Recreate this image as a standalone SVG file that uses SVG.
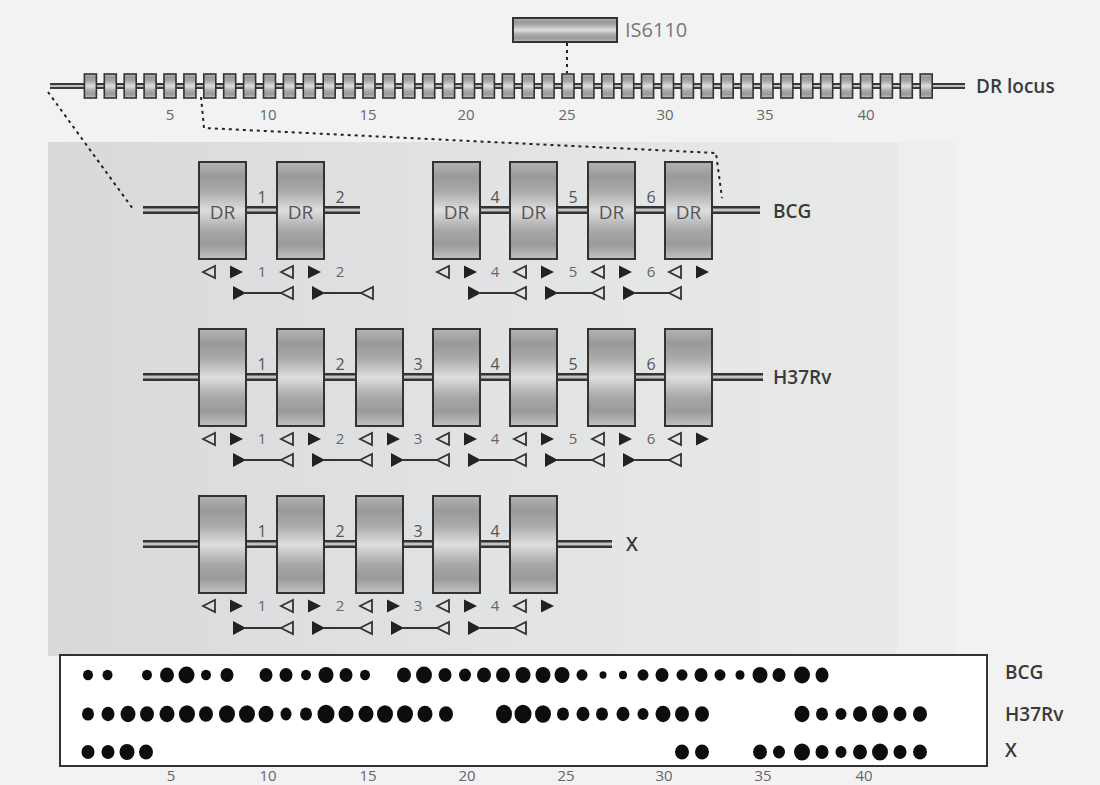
<svg xmlns="http://www.w3.org/2000/svg" xmlns:xlink="http://www.w3.org/1999/xlink" width="1100" height="785" viewBox="0 0 1100 785">
<style>
.t{font-family:"Open Sans","Liberation Sans",sans-serif;}
.num{font-size:15px;fill:#666;text-anchor:middle;}
.sp{font-size:16px;fill:#555;text-anchor:middle;}
.lab{font-size:19px;font-weight:600;fill:#3a3a3a;}
.dr{font-size:19px;fill:#555;text-anchor:middle;}
.box{fill:url(#metal);stroke:#333;stroke-width:2;}
.sbox{fill:url(#metal);stroke:#333;stroke-width:1.6;}
.lo{stroke:#333;stroke-width:8;fill:none;}
.li{stroke:#c4c4c4;stroke-width:3;fill:none;}
.slo{stroke:#3a3a3a;stroke-width:6;fill:none;}
.sli{stroke:#bdbdbd;stroke-width:2;fill:none;}
.dash{stroke:#222;stroke-width:2;fill:none;stroke-dasharray:3 4;}
.tri-o{fill:none;stroke:#333;stroke-width:1.8;stroke-linejoin:miter;}
.tri-f{fill:#222;}
.pl{stroke:#333;stroke-width:2;}
.dot{fill:#111;filter:url(#soft);}
</style>
<defs>
<linearGradient id="metal" x1="0" y1="0" x2="0" y2="1">
<stop offset="0" stop-color="#b4b4b4"/>
<stop offset="0.15" stop-color="#999"/>
<stop offset="0.3" stop-color="#a9a9a9"/>
<stop offset="0.5" stop-color="#dedede"/>
<stop offset="0.7" stop-color="#a8a8a8"/>
<stop offset="0.85" stop-color="#9a9a9a"/>
<stop offset="1" stop-color="#c2c2c2"/>
</linearGradient>
<linearGradient id="panel" x1="0" y1="0" x2="1" y2="0">
<stop offset="0" stop-color="#d8d9da"/>
<stop offset="0.5" stop-color="#e1e2e3"/>
<stop offset="0.75" stop-color="#e5e6e6"/>
<stop offset="1" stop-color="#e8e9e9"/>
</linearGradient>
<filter id="soft" x="-30%" y="-30%" width="160%" height="160%"><feGaussianBlur stdDeviation="0.7"/></filter>
<rect id="sb" x="0" y="74" width="12" height="24" class="sbox"/>
<rect id="bb" x="0" y="0" width="47" height="97" class="box"/>
<path id="to" d="M0,0 L12,-6 L12,6 Z" class="tri-o"/>
<path id="tf" d="M0,-6.5 L13,0 L0,6.5 Z" class="tri-f"/>
<path id="tp" d="M0,-7 L13,0 L0,7 Z" class="tri-f"/>
</defs>

<rect x="0" y="0" width="1100" height="785" fill="#f2f2f2"/>
<rect x="897" y="142" width="58" height="514" fill="#eeeeee"/>
<rect x="48" y="142" width="849" height="514" fill="url(#panel)"/>

<!-- IS6110 -->
<g id="is6110">
<rect x="513" y="18" width="104" height="24" class="box"/>
<text x="625" y="37" class="t" font-size="20" fill="#777">IS6110</text>
</g>

<!-- DR locus -->
<g id="dr-locus">
<line x1="50" y1="86" x2="965" y2="86" class="slo"/>
<line x1="50" y1="86" x2="965" y2="86" class="sli"/>
<use xlink:href="#sb" x="84.4"/><use xlink:href="#sb" x="104.3"/><use xlink:href="#sb" x="124.2"/><use xlink:href="#sb" x="144.1"/><use xlink:href="#sb" x="164"/>
<use xlink:href="#sb" x="183.9"/><use xlink:href="#sb" x="203.8"/><use xlink:href="#sb" x="223.7"/><use xlink:href="#sb" x="243.6"/><use xlink:href="#sb" x="263.5"/>
<use xlink:href="#sb" x="283.4"/><use xlink:href="#sb" x="303.3"/><use xlink:href="#sb" x="323.2"/><use xlink:href="#sb" x="343.1"/><use xlink:href="#sb" x="363"/>
<use xlink:href="#sb" x="382.9"/><use xlink:href="#sb" x="402.8"/><use xlink:href="#sb" x="422.7"/><use xlink:href="#sb" x="442.6"/><use xlink:href="#sb" x="462.5"/>
<use xlink:href="#sb" x="482.4"/><use xlink:href="#sb" x="502.3"/><use xlink:href="#sb" x="522.2"/><use xlink:href="#sb" x="542.1"/><use xlink:href="#sb" x="562"/>
<use xlink:href="#sb" x="581.9"/><use xlink:href="#sb" x="601.8"/><use xlink:href="#sb" x="621.7"/><use xlink:href="#sb" x="641.6"/><use xlink:href="#sb" x="661.5"/>
<use xlink:href="#sb" x="681.4"/><use xlink:href="#sb" x="701.3"/><use xlink:href="#sb" x="721.2"/><use xlink:href="#sb" x="741.1"/><use xlink:href="#sb" x="761"/>
<use xlink:href="#sb" x="780.9"/><use xlink:href="#sb" x="800.8"/><use xlink:href="#sb" x="820.7"/><use xlink:href="#sb" x="840.6"/><use xlink:href="#sb" x="860.5"/>
<use xlink:href="#sb" x="880.4"/><use xlink:href="#sb" x="900.3"/><use xlink:href="#sb" x="920.2"/>
<text x="976" y="93" class="t lab" font-size="19">DR locus</text>
<g class="t num">
<text x="170" y="120">5</text><text x="268" y="120">10</text><text x="368" y="120">15</text><text x="466" y="120">20</text>
<text x="567" y="120">25</text><text x="665" y="120">30</text><text x="765" y="120">35</text><text x="866" y="120">40</text>
</g>
</g>

<!-- connectors -->
<g id="connectors">
<line x1="567" y1="43" x2="567" y2="73" class="dash"/>
<line x1="48" y1="92" x2="133" y2="209" class="dash"/>
<polyline points="201,97 204,128 716,153 722,198" class="dash"/>
</g>

<!-- BCG -->
<g id="row-bcg">
<line x1="143" y1="210" x2="360" y2="210" class="lo"/><line x1="143" y1="210" x2="360" y2="210" class="li"/>
<line x1="470" y1="210" x2="760" y2="210" class="lo"/><line x1="470" y1="210" x2="760" y2="210" class="li"/>
<use xlink:href="#bb" x="199" y="162"/><use xlink:href="#bb" x="277" y="162"/>
<use xlink:href="#bb" x="433" y="162"/><use xlink:href="#bb" x="510" y="162"/><use xlink:href="#bb" x="588" y="162"/><use xlink:href="#bb" x="665" y="162"/>
<g class="t dr">
<text x="222.5" y="219">DR</text><text x="300.5" y="219">DR</text><text x="456.5" y="219">DR</text><text x="533.5" y="219">DR</text><text x="611.5" y="219">DR</text><text x="688.5" y="219">DR</text>
</g>
<g class="t sp">
<text x="262" y="203">1</text><text x="340" y="203">2</text><text x="495" y="203">4</text><text x="573" y="203">5</text><text x="651" y="203">6</text>
</g>
<text x="773" y="218" class="t lab">BCG</text>
<use xlink:href="#to" x="203" y="272"/><use xlink:href="#tf" x="230" y="272"/>
<use xlink:href="#to" x="281" y="272"/><use xlink:href="#tf" x="308" y="272"/>
<use xlink:href="#to" x="437" y="272"/><use xlink:href="#tf" x="464" y="272"/>
<use xlink:href="#to" x="514" y="272"/><use xlink:href="#tf" x="541" y="272"/>
<use xlink:href="#to" x="592" y="272"/><use xlink:href="#tf" x="619" y="272"/>
<use xlink:href="#to" x="669" y="272"/><use xlink:href="#tf" x="696" y="272"/>
<g class="t num">
<text x="262" y="277">1</text><text x="340" y="277">2</text><text x="495" y="277">4</text><text x="573" y="277">5</text><text x="651" y="277">6</text>
</g>
<line x1="245" y1="293" x2="281" y2="293" class="pl"/><use xlink:href="#tp" x="233" y="293"/><use xlink:href="#to" x="281" y="293"/>
<line x1="324" y1="293" x2="361" y2="293" class="pl"/><use xlink:href="#tp" x="312" y="293"/><use xlink:href="#to" x="361" y="293"/>
<line x1="480" y1="293" x2="514" y2="293" class="pl"/><use xlink:href="#tp" x="468" y="293"/><use xlink:href="#to" x="514" y="293"/>
<line x1="557" y1="293" x2="592" y2="293" class="pl"/><use xlink:href="#tp" x="545" y="293"/><use xlink:href="#to" x="592" y="293"/>
<line x1="635" y1="293" x2="669" y2="293" class="pl"/><use xlink:href="#tp" x="623" y="293"/><use xlink:href="#to" x="669" y="293"/>
</g>

<!-- H37Rv -->
<g id="row-h37rv">
<line x1="143" y1="377" x2="763" y2="377" class="lo"/><line x1="143" y1="377" x2="763" y2="377" class="li"/>
<use xlink:href="#bb" x="199" y="329"/><use xlink:href="#bb" x="277" y="329"/><use xlink:href="#bb" x="356" y="329"/><use xlink:href="#bb" x="433" y="329"/>
<use xlink:href="#bb" x="510" y="329"/><use xlink:href="#bb" x="588" y="329"/><use xlink:href="#bb" x="665" y="329"/>
<g class="t sp">
<text x="262" y="370">1</text><text x="340" y="370">2</text><text x="418" y="370">3</text><text x="495" y="370">4</text><text x="573" y="370">5</text><text x="651" y="370">6</text>
</g>
<text x="773" y="384" class="t lab">H37Rv</text>
<use xlink:href="#to" x="203" y="439"/><use xlink:href="#tf" x="230" y="439"/>
<use xlink:href="#to" x="281" y="439"/><use xlink:href="#tf" x="308" y="439"/>
<use xlink:href="#to" x="360" y="439"/><use xlink:href="#tf" x="387" y="439"/>
<use xlink:href="#to" x="437" y="439"/><use xlink:href="#tf" x="464" y="439"/>
<use xlink:href="#to" x="514" y="439"/><use xlink:href="#tf" x="541" y="439"/>
<use xlink:href="#to" x="592" y="439"/><use xlink:href="#tf" x="619" y="439"/>
<use xlink:href="#to" x="669" y="439"/><use xlink:href="#tf" x="696" y="439"/>
<g class="t num">
<text x="262" y="444">1</text><text x="340" y="444">2</text><text x="418" y="444">3</text><text x="495" y="444">4</text><text x="573" y="444">5</text><text x="651" y="444">6</text>
</g>
<line x1="245" y1="460" x2="281" y2="460" class="pl"/><use xlink:href="#tp" x="233" y="460"/><use xlink:href="#to" x="281" y="460"/>
<line x1="324" y1="460" x2="360" y2="460" class="pl"/><use xlink:href="#tp" x="312" y="460"/><use xlink:href="#to" x="360" y="460"/>
<line x1="403" y1="460" x2="437" y2="460" class="pl"/><use xlink:href="#tp" x="391" y="460"/><use xlink:href="#to" x="437" y="460"/>
<line x1="480" y1="460" x2="514" y2="460" class="pl"/><use xlink:href="#tp" x="468" y="460"/><use xlink:href="#to" x="514" y="460"/>
<line x1="557" y1="460" x2="592" y2="460" class="pl"/><use xlink:href="#tp" x="545" y="460"/><use xlink:href="#to" x="592" y="460"/>
<line x1="635" y1="460" x2="669" y2="460" class="pl"/><use xlink:href="#tp" x="623" y="460"/><use xlink:href="#to" x="669" y="460"/>
</g>

<!-- X -->
<g id="row-x">
<line x1="143" y1="544" x2="612" y2="544" class="lo"/><line x1="143" y1="544" x2="612" y2="544" class="li"/>
<use xlink:href="#bb" x="199" y="496"/><use xlink:href="#bb" x="277" y="496"/><use xlink:href="#bb" x="356" y="496"/><use xlink:href="#bb" x="433" y="496"/><use xlink:href="#bb" x="510" y="496"/>
<g class="t sp">
<text x="262" y="537">1</text><text x="340" y="537">2</text><text x="418" y="537">3</text><text x="495" y="537">4</text>
</g>
<text x="626" y="551" class="t lab">X</text>
<use xlink:href="#to" x="203" y="606"/><use xlink:href="#tf" x="230" y="606"/>
<use xlink:href="#to" x="281" y="606"/><use xlink:href="#tf" x="308" y="606"/>
<use xlink:href="#to" x="360" y="606"/><use xlink:href="#tf" x="387" y="606"/>
<use xlink:href="#to" x="437" y="606"/><use xlink:href="#tf" x="464" y="606"/>
<use xlink:href="#to" x="514" y="606"/><use xlink:href="#tf" x="541" y="606"/>
<g class="t num">
<text x="262" y="611">1</text><text x="340" y="611">2</text><text x="418" y="611">3</text><text x="495" y="611">4</text>
</g>
<line x1="245" y1="628" x2="281" y2="628" class="pl"/><use xlink:href="#tp" x="233" y="628"/><use xlink:href="#to" x="281" y="628"/>
<line x1="324" y1="628" x2="360" y2="628" class="pl"/><use xlink:href="#tp" x="312" y="628"/><use xlink:href="#to" x="360" y="628"/>
<line x1="403" y1="628" x2="437" y2="628" class="pl"/><use xlink:href="#tp" x="391" y="628"/><use xlink:href="#to" x="437" y="628"/>
<line x1="480" y1="628" x2="514" y2="628" class="pl"/><use xlink:href="#tp" x="468" y="628"/><use xlink:href="#to" x="514" y="628"/>
</g>

<!-- spoligotype -->
<g id="spoligotype">
<rect x="60" y="655" width="927" height="111" fill="#fff" stroke="#333" stroke-width="2"/>
<g id="dots-bcg">
<ellipse class="dot" cx="88" cy="675" rx="5" ry="5.3"/><ellipse class="dot" cx="107.5" cy="675" rx="5" ry="5.3"/>
<ellipse class="dot" cx="147" cy="675" rx="5" ry="5.3"/><ellipse class="dot" cx="167" cy="675" rx="7" ry="7.5"/><ellipse class="dot" cx="186.5" cy="675" rx="8" ry="8.5"/><ellipse class="dot" cx="206" cy="675" rx="5" ry="5.3"/><ellipse class="dot" cx="227" cy="675" rx="6.5" ry="7"/>
<ellipse class="dot" cx="266" cy="675" rx="6.5" ry="7"/><ellipse class="dot" cx="286" cy="675" rx="6.5" ry="7"/><ellipse class="dot" cx="306" cy="675" rx="5" ry="5.3"/><ellipse class="dot" cx="326" cy="675" rx="7.5" ry="8"/><ellipse class="dot" cx="346" cy="675" rx="6.5" ry="7"/><ellipse class="dot" cx="365" cy="675" rx="5" ry="5.3"/>
<ellipse class="dot" cx="404" cy="675" rx="7" ry="7.5"/><ellipse class="dot" cx="424" cy="675" rx="8" ry="8.5"/><ellipse class="dot" cx="445" cy="675" rx="6.5" ry="7"/><ellipse class="dot" cx="465" cy="675" rx="6" ry="6.4"/><ellipse class="dot" cx="484" cy="675" rx="7" ry="7.5"/><ellipse class="dot" cx="503" cy="675" rx="7" ry="7.5"/>
<ellipse class="dot" cx="523" cy="675" rx="7.5" ry="8"/><ellipse class="dot" cx="543" cy="675" rx="7.5" ry="8"/><ellipse class="dot" cx="562" cy="675" rx="7.5" ry="8"/><ellipse class="dot" cx="582" cy="675" rx="5.5" ry="5.8"/><ellipse class="dot" cx="603" cy="675" rx="3.5" ry="3.7"/><ellipse class="dot" cx="623" cy="675" rx="4" ry="4.2"/>
<ellipse class="dot" cx="643" cy="675" rx="5.5" ry="5.8"/><ellipse class="dot" cx="662" cy="675" rx="6.5" ry="7"/><ellipse class="dot" cx="682" cy="675" rx="5.5" ry="5.8"/><ellipse class="dot" cx="701" cy="675" rx="6.5" ry="7"/><ellipse class="dot" cx="720" cy="675" rx="5.5" ry="5.8"/><ellipse class="dot" cx="740" cy="675" rx="4.5" ry="4.8"/>
<ellipse class="dot" cx="760" cy="675" rx="7.5" ry="8"/><ellipse class="dot" cx="779" cy="675" rx="6.5" ry="7"/><ellipse class="dot" cx="802" cy="675" rx="8" ry="8.5"/><ellipse class="dot" cx="822" cy="675" rx="6.5" ry="7.5"/>
</g>
<g id="dots-h37rv">
<ellipse class="dot" cx="88" cy="714" rx="6" ry="6.6"/><ellipse class="dot" cx="108" cy="714" rx="6.5" ry="7.2"/><ellipse class="dot" cx="128" cy="714" rx="7.5" ry="8.2"/><ellipse class="dot" cx="147" cy="714" rx="7" ry="7.7"/><ellipse class="dot" cx="167" cy="714" rx="7.5" ry="8.2"/>
<ellipse class="dot" cx="187" cy="714" rx="8" ry="8.8"/><ellipse class="dot" cx="206" cy="714" rx="7" ry="7.7"/><ellipse class="dot" cx="227" cy="714" rx="8" ry="8.8"/><ellipse class="dot" cx="247" cy="714" rx="8" ry="8.8"/><ellipse class="dot" cx="266" cy="714" rx="7.5" ry="8.2"/>
<ellipse class="dot" cx="286" cy="714" rx="5.5" ry="6.5"/><ellipse class="dot" cx="306" cy="714" rx="6" ry="6.6"/><ellipse class="dot" cx="326" cy="714" rx="8.5" ry="9.3"/><ellipse class="dot" cx="346" cy="714" rx="7.5" ry="8.2"/><ellipse class="dot" cx="366" cy="714" rx="7.5" ry="8.2"/>
<ellipse class="dot" cx="385" cy="714" rx="8" ry="8.8"/><ellipse class="dot" cx="405" cy="714" rx="8" ry="8.8"/><ellipse class="dot" cx="425" cy="714" rx="7.5" ry="8.2"/><ellipse class="dot" cx="446" cy="714" rx="7" ry="7.7"/>
<ellipse class="dot" cx="504" cy="714" rx="8" ry="9.3"/><ellipse class="dot" cx="523" cy="714" rx="8.5" ry="9.3"/><ellipse class="dot" cx="543" cy="714" rx="8" ry="8.8"/><ellipse class="dot" cx="563" cy="714" rx="6" ry="6.6"/><ellipse class="dot" cx="583" cy="714" rx="6.5" ry="7.2"/>
<ellipse class="dot" cx="602" cy="714" rx="6" ry="6.6"/><ellipse class="dot" cx="623" cy="714" rx="6.5" ry="7.2"/><ellipse class="dot" cx="643" cy="714" rx="5.5" ry="6"/><ellipse class="dot" cx="663" cy="714" rx="7.5" ry="8.2"/><ellipse class="dot" cx="682" cy="714" rx="7" ry="7.7"/><ellipse class="dot" cx="702" cy="714" rx="7" ry="7.7"/>
<ellipse class="dot" cx="802" cy="714" rx="7.5" ry="8.2"/><ellipse class="dot" cx="822" cy="714" rx="6" ry="6.6"/><ellipse class="dot" cx="841" cy="714" rx="5.5" ry="6"/><ellipse class="dot" cx="860" cy="714" rx="7" ry="7.7"/><ellipse class="dot" cx="880" cy="714" rx="8" ry="8.8"/>
<ellipse class="dot" cx="900" cy="714" rx="6.5" ry="7.2"/><ellipse class="dot" cx="920" cy="714" rx="7" ry="7.7"/>
</g>
<g id="dots-x">
<ellipse class="dot" cx="88" cy="752" rx="6.5" ry="7"/><ellipse class="dot" cx="108" cy="752" rx="6.5" ry="7"/><ellipse class="dot" cx="127" cy="752" rx="7.5" ry="8"/><ellipse class="dot" cx="146" cy="752" rx="7" ry="7.6"/>
<ellipse class="dot" cx="682" cy="752" rx="7" ry="7.6"/><ellipse class="dot" cx="702" cy="752" rx="7" ry="7.6"/>
<ellipse class="dot" cx="760" cy="752" rx="7" ry="7.6"/><ellipse class="dot" cx="779" cy="752" rx="6" ry="6.5"/><ellipse class="dot" cx="802" cy="752" rx="8" ry="8.6"/><ellipse class="dot" cx="822" cy="752" rx="6.5" ry="7"/>
<ellipse class="dot" cx="841" cy="752" rx="5.5" ry="6"/><ellipse class="dot" cx="860" cy="752" rx="7" ry="7.6"/><ellipse class="dot" cx="880" cy="752" rx="8" ry="8.6"/><ellipse class="dot" cx="900" cy="752" rx="6.5" ry="7"/><ellipse class="dot" cx="920" cy="752" rx="7" ry="7.6"/>
</g>
<text x="1005" y="679" class="t lab" font-size="18">BCG</text>
<text x="1005" y="721" class="t lab" font-size="18">H37Rv</text>
<text x="1005" y="757" class="t lab" font-size="18">X</text>
<g class="t num" font-size="13">
<text x="171" y="781">5</text><text x="268" y="781">10</text><text x="368" y="781">15</text><text x="467" y="781">20</text>
<text x="566" y="781">25</text><text x="664" y="781">30</text><text x="763" y="781">35</text><text x="864" y="781">40</text>
</g>
</g>
</svg>
